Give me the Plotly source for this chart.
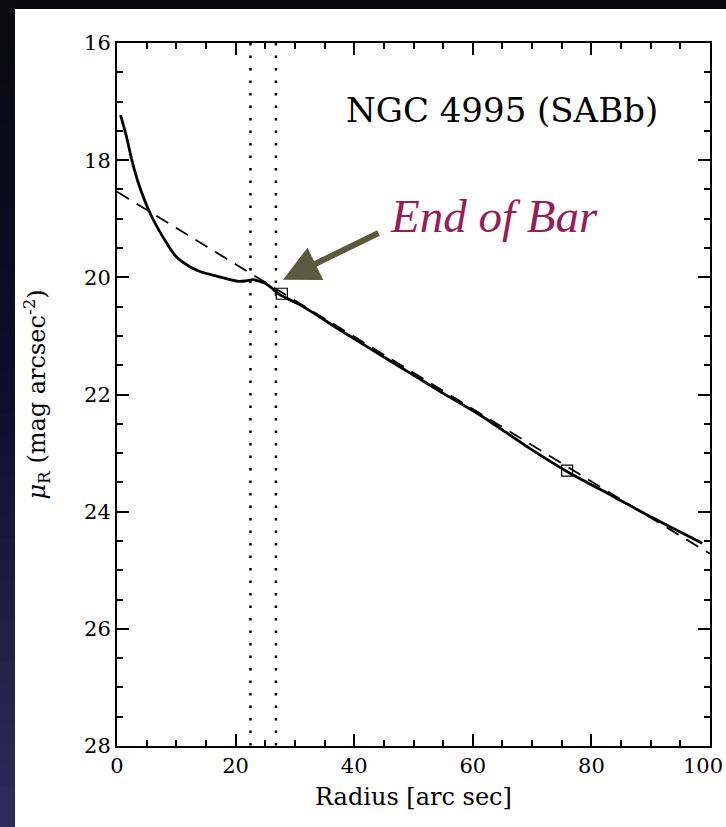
import plotly.graph_objects as go

# ---- data ----
radius = [0.6, 1.6, 2.5, 3.6, 5.6, 8.4, 10.0, 12.3, 14.0, 16.8, 20.5, 21.8, 23.0,
          24.1, 25.0, 26.4, 27.5, 30.9, 37.6, 45.0, 50.0, 55.0, 61.2, 69.6, 75.8,
          83.7, 90.4, 98.7]
mu_r = [17.23, 17.60, 18.00, 18.39, 18.91, 19.42, 19.65, 19.82, 19.90, 19.98, 20.07,
        20.06, 20.04, 20.07, 20.10, 20.21, 20.30, 20.47, 20.90, 21.36, 21.67, 21.98,
        22.35, 22.92, 23.31, 23.74, 24.11, 24.54]

fit_x = [0, 100]
fit_y = [18.54, 24.72]

bar_lines_x = [22.5, 26.8]
y_span = [16, 28]

marker_x = [27.8, 75.9]
marker_y = [20.28, 23.30]

arrow_head = (28.0, 20.04)
arrow_tail = (44.35, 19.23)

x_ticks = [0, 20, 40, 60, 80, 100]
x_tick_labels = ["0", "20", "40", "60", "80", "100"]
y_ticks = [16, 18, 20, 22, 24, 26, 28]

W, H = 726, 827
L, R, T, B = 117, 16, 43, 81
PW, PH = W - L - R, H - T - B


def px_to_paper_x(px):
    return (px - L) / PW


def px_to_paper_y(py):
    return (H - B - py) / PH


fig = go.Figure()

# dashed fit
fig.add_trace(go.Scatter(x=fit_x, y=fit_y, mode="lines",
                         line=dict(color="black", width=1.8, dash="14px,9px"),
                         hoverinfo="skip", showlegend=False))
# dotted bar lines
for xv in bar_lines_x:
    fig.add_trace(go.Scatter(x=[xv, xv], y=y_span, mode="lines",
                             line=dict(color="black", width=2.5, dash="2.5px,10px"),
                             hoverinfo="skip", showlegend=False))
# profile
fig.add_trace(go.Scatter(x=radius, y=mu_r, mode="lines",
                         line=dict(color="black", width=2.8, shape="spline", smoothing=0.8),
                         showlegend=False))
# square markers
fig.add_trace(go.Scatter(x=marker_x, y=marker_y, mode="markers",
                         marker=dict(symbol="square-open", size=11, color="black",
                                     line=dict(width=1.2, color="black")),
                         showlegend=False))

# ---- background: dark gradient strip + white panel ----
shapes = []
stops = [(0.0, (10, 10, 14)), (0.45, (13, 12, 44)), (1.0, (46, 45, 88))]


def interp(t):
    for i in range(len(stops) - 1):
        t0, c0 = stops[i]
        t1, c1 = stops[i + 1]
        if t0 <= t <= t1:
            f = (t - t0) / (t1 - t0)
            return tuple(int(round(c0[k] + f * (c1[k] - c0[k]))) for k in range(3))
    return stops[-1][1]


N = 40
for i in range(N):
    y0 = i * H / N
    y1 = (i + 1) * H / N + 1
    c = interp((i + 0.5) / N)
    shapes.append(dict(type="rect", xref="paper", yref="paper", layer="below",
                       x0=px_to_paper_x(0), x1=px_to_paper_x(16),
                       y0=px_to_paper_y(y1), y1=px_to_paper_y(y0),
                       fillcolor="rgb(%d,%d,%d)" % c, line=dict(width=0)))
shapes.append(dict(type="rect", xref="paper", yref="paper", layer="below",
                   x0=px_to_paper_x(15), x1=px_to_paper_x(W + 5),
                   y0=px_to_paper_y(H + 5), y1=px_to_paper_y(9),
                   fillcolor="white", line=dict(width=0)))

tickfont = dict(family="DejaVu Serif", size=21, color="black")

# the last x tick label is drawn right-aligned at the window edge (as in the reference)
shown_x_labels = x_tick_labels[:-1] + [""]

fig.update_layout(
    width=W, height=H,
    margin=dict(l=L, r=R, t=T, b=B, autoexpand=False),
    paper_bgcolor="#0a0a0e",
    plot_bgcolor="white",
    shapes=shapes,
    xaxis=dict(range=[0, 100], tickvals=x_ticks, ticktext=shown_x_labels,
               ticks="inside", ticklen=12, tickwidth=1.5,
               showline=True, linewidth=2, linecolor="black", mirror="ticks",
               showgrid=False, zeroline=False, tickfont=tickfont, tickcolor="black",
               ticklabeloverflow="allow", automargin=False,
               minor=dict(dtick=5, ticks="inside", ticklen=6, tickwidth=1.5, tickcolor="black")),
    yaxis=dict(range=[28, 16], tickvals=y_ticks, ticks="inside", ticklen=12, tickwidth=1.5,
               showline=True, linewidth=2, linecolor="black", mirror="ticks",
               showgrid=False, zeroline=False, tickfont=tickfont, tickcolor="black",
               ticklabeloverflow="allow", automargin=False,
               minor=dict(dtick=0.5, ticks="inside", ticklen=6, tickwidth=1.5, tickcolor="black")),
    annotations=[
        dict(text=x_tick_labels[-1], xref="paper", yref="paper",
             x=px_to_paper_x(725), y=px_to_paper_y(766), xanchor="right", yanchor="middle",
             showarrow=False, font=tickfont),
        dict(text="NGC 4995 (SABb)", xref="paper", yref="paper",
             x=px_to_paper_x(502), y=px_to_paper_y(110), xanchor="center", yanchor="middle",
             showarrow=False, font=dict(family="DejaVu Serif", size=34, color="black")),
        dict(text="<i>End of Bar</i>", xref="paper", yref="paper",
             x=px_to_paper_x(494), y=px_to_paper_y(216), xanchor="center", yanchor="middle",
             showarrow=False, font=dict(family="Liberation Serif", size=47, color="#951e5a")),
        dict(text="", x=arrow_head[0], y=arrow_head[1], ax=arrow_tail[0], ay=arrow_tail[1],
             xref="x", yref="y", axref="x", ayref="y", showarrow=True,
             arrowhead=2, arrowsize=1.2, arrowwidth=6, arrowcolor="#5a5a3c", standoff=0),
        dict(text="Radius [arc sec]", xref="paper", yref="paper",
             x=0.5, y=px_to_paper_y(797), xanchor="center", yanchor="middle",
             showarrow=False, font=dict(family="DejaVu Serif", size=24, color="black")),
        dict(text="<i>μ</i><sub>R</sub> (mag arcsec<sup>-2</sup>)", xref="paper", yref="paper",
             x=px_to_paper_x(36), y=0.5, xanchor="center", yanchor="middle", textangle=-90,
             showarrow=False, font=dict(family="DejaVu Serif", size=24, color="black")),
    ],
)

fig.write_html("out.html", config={"displayModeBar": False})

# remove the default page margin so the figure fills the window exactly
with open("out.html", "r", encoding="utf-8") as f:
    html = f.read()
html = html.replace("<head>", "<head><style>html,body{margin:0;padding:0;overflow:hidden;}</style>", 1)
with open("out.html", "w", encoding="utf-8") as f:
    f.write(html)
